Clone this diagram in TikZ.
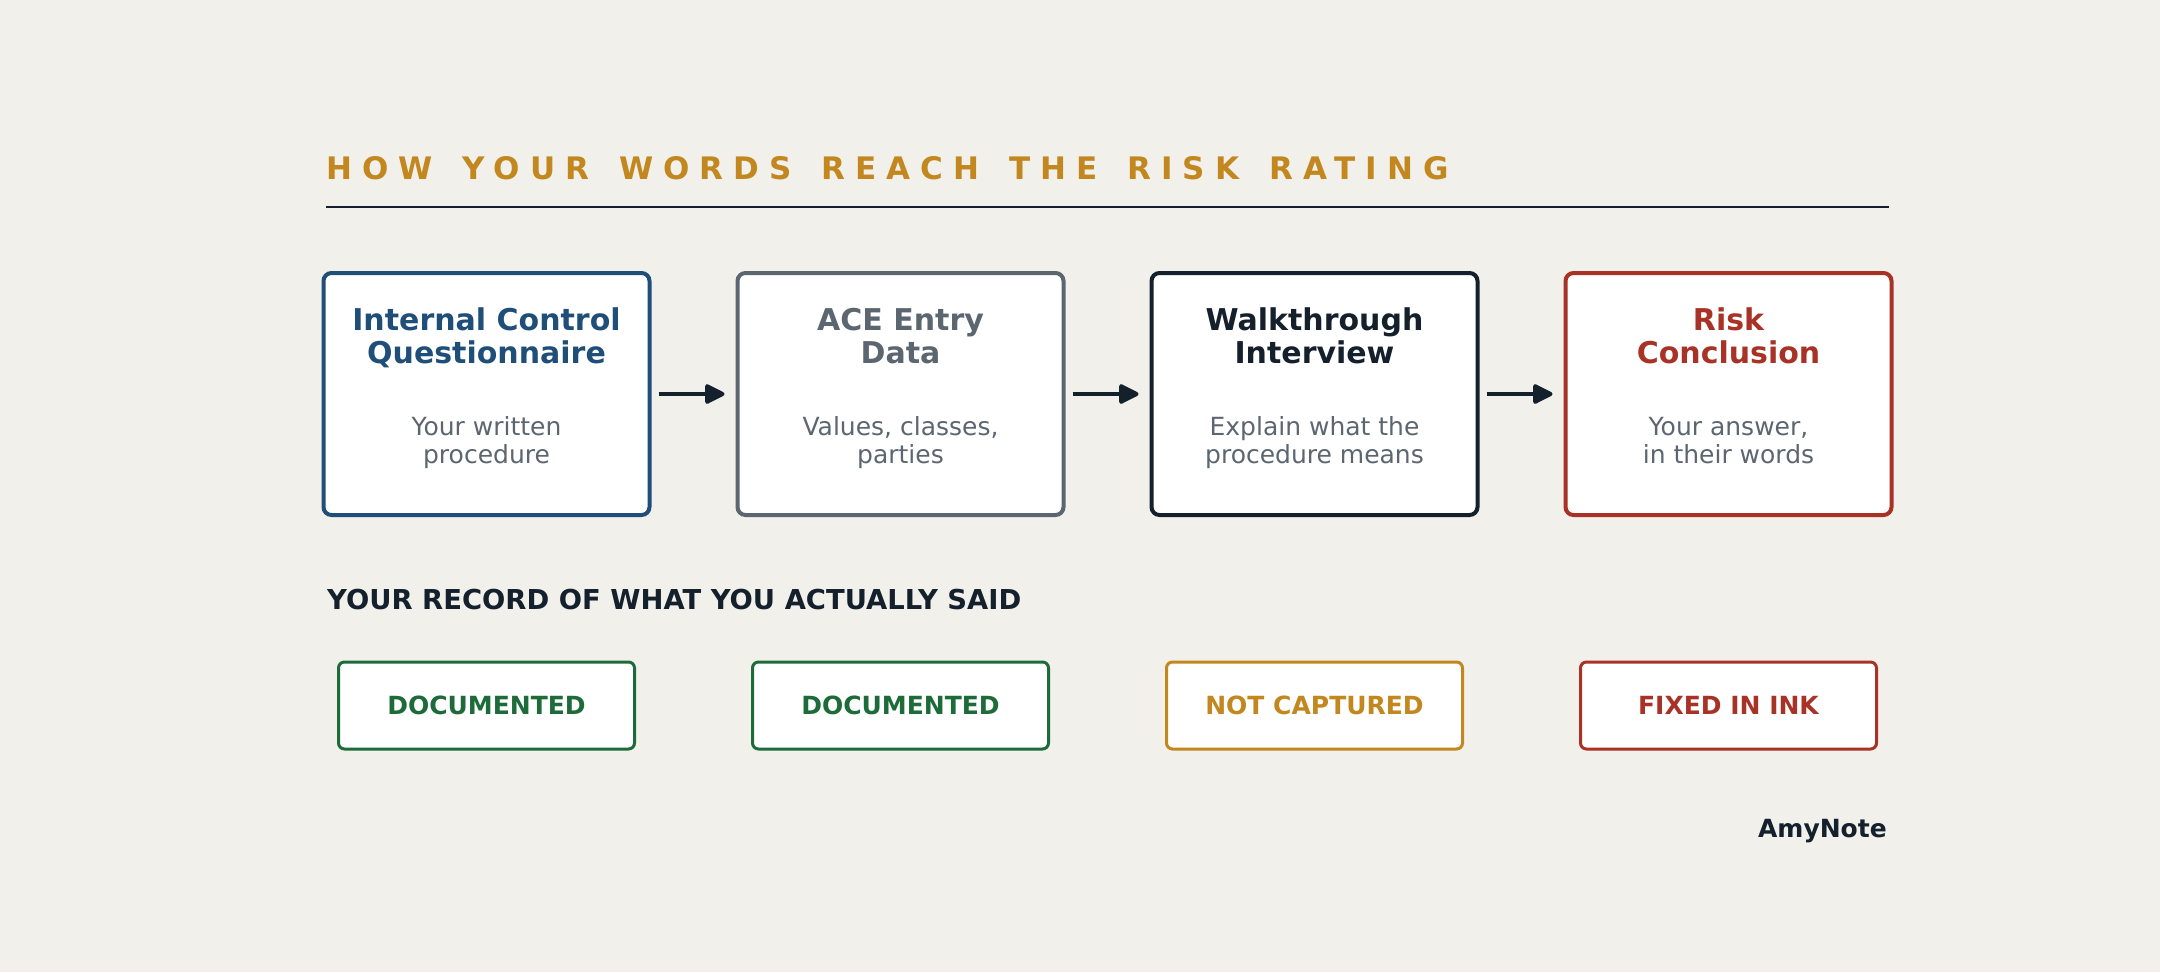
\documentclass[tikz,border=0pt]{standalone}
\usepackage{fontspec}
\setmainfont{DejaVu Sans}
\usetikzlibrary{arrows.meta}
\definecolor{bg}{HTML}{F1F0EB}
\definecolor{gold}{HTML}{C2871F}
\definecolor{navy}{HTML}{1F4E79}
\definecolor{slate}{HTML}{5C6670}
\definecolor{ink}{HTML}{14202C}
\definecolor{brick}{HTML}{A93226}
\definecolor{forest}{HTML}{1E6B3A}
\newcommand{\fs}[2]{\fontsize{#1}{#2}\selectfont}
\newcommand{\wgap}{\hspace{9.5pt} }
\tikzset{
  stagebox/.style={draw=#1, line width=4pt, fill=white, rounded corners=8pt,
    minimum width=326pt, minimum height=242pt, inner sep=0pt},
  stagetitle/.style={text=#1, font=\fs{30}{33}\bfseries, anchor=base, inner sep=0pt},
  stagesub/.style={text=slate, font=\fs{25}{28}, anchor=base, inner sep=0pt},
  badge/.style={draw=#1, line width=3pt, fill=white, rounded corners=6pt,
    minimum width=296pt, minimum height=87pt, inner sep=0pt, text=#1,
    font=\fs{25}{28}\bfseries},
  flow/.style={draw=ink, line width=4pt, -{Triangle[length=22pt,width=21pt,round]}},
}
\begin{document}
\begin{tikzpicture}[x=1pt,y=-1pt]
\fill[bg] (0,0) rectangle (2160,972);
\useasboundingbox (0,0) rectangle (2160,972);

% title
\node[anchor=base west, inner sep=0pt, text=gold, font=\fs{31}{36}\bfseries\addfontfeatures{LetterSpace=32}]
  (title) at (326,179) {HOW\wgap YOUR\wgap WORDS\wgap REACH\wgap THE\wgap RISK\wgap RATING};
\coordinate (ruleL) at (326,207);
\coordinate (ruleR) at (1889,207);
\draw[ink, line width=2.5pt] (ruleL) -- (ruleR);

% stage boxes
\node[stagebox=navy]  (b1) at (486.5,394) {};
\node[stagebox=slate] (b2) at (900.5,394) {};
\node[stagebox=ink]   (b3) at (1314.5,394) {};
\node[stagebox=brick] (b4) at (1728.5,394) {};

\node[stagetitle=navy] (t1a) at (486.5,330) {Internal Control};
\node[stagetitle=navy] (t1b) at (486.5,363) {Questionnaire};
\node[stagesub] (s1a) at (486.5,435) {Your written};
\node[stagesub] (s1b) at (486.5,463) {procedure};

\node[stagetitle=slate] (t2a) at (900.5,330) {ACE Entry};
\node[stagetitle=slate] (t2b) at (900.5,363) {Data};
\node[stagesub] (s2a) at (900.5,435) {Values, classes,};
\node[stagesub] (s2b) at (900.5,463) {parties};

\node[stagetitle=ink] (t3a) at (1314.5,330) {Walkthrough};
\node[stagetitle=ink] (t3b) at (1314.5,363) {Interview};
\node[stagesub] (s3a) at (1314.5,435) {Explain what the};
\node[stagesub] (s3b) at (1314.5,463) {procedure means};

\node[stagetitle=brick] (t4a) at (1728.5,330) {Risk};
\node[stagetitle=brick] (t4b) at (1728.5,363) {Conclusion};
\node[stagesub] (s4a) at (1728.5,435) {Your answer,};
\node[stagesub] (s4b) at (1728.5,463) {in their words};

% arrows
\draw[flow] ([xshift=7pt]b1.east) -- ([xshift=-11pt]b2.west);
\draw[flow] ([xshift=7pt]b2.east) -- ([xshift=-11pt]b3.west);
\draw[flow] ([xshift=7pt]b3.east) -- ([xshift=-11pt]b4.west);

% section heading
\node[anchor=base west, inner sep=0pt, text=ink, font=\fs{27.4}{32}\bfseries]
  (sec) at (327,609) {YOUR RECORD OF WHAT YOU ACTUALLY SAID};

% badges
\node[badge=forest] (d1) at (486.5,705.5) {DOCUMENTED};
\node[badge=forest] (d2) at (900.5,705.5) {DOCUMENTED};
\node[badge=gold]   (d3) at (1314.5,705.5) {NOT CAPTURED};
\node[badge=brick]  (d4) at (1728.5,705.5) {FIXED IN INK};

% brand
\node[anchor=base east, inner sep=0pt, text=ink, font=\fs{25}{28}\bfseries]
  (brand) at (1887,837) {AmyNote};
\end{tikzpicture}
\end{document}
